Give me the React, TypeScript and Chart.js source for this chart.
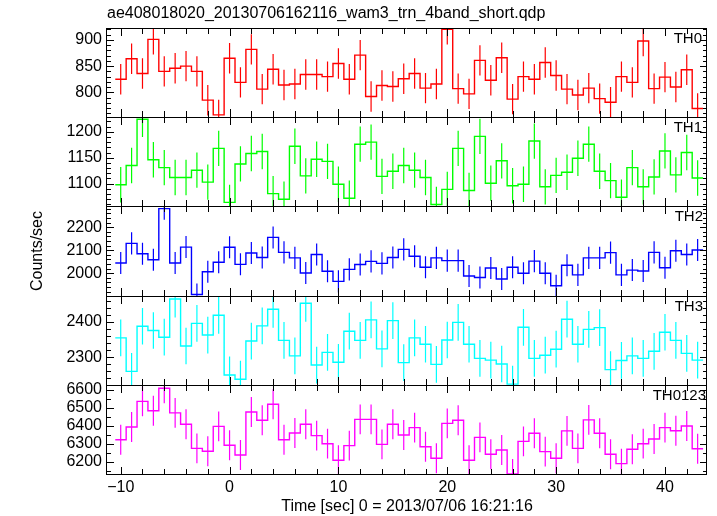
import React, { useEffect, useRef } from 'react';
import { Chart, registerables } from 'chart.js';

Chart.register(...registerables);

// ---------- data ----------
const TIME = [
  -10, -9, -8, -7, -6, -5, -4, -3, -2, -1, 0, 1, 2, 3, 4, 5, 6, 7, 8, 9, 10, 11, 12, 13, 14, 15, 16,
  17, 18, 19, 20, 21, 22, 23, 24, 25, 26, 27, 28, 29, 30, 31, 32, 33, 34, 35, 36, 37, 38, 39, 40, 41, 42, 43,
];
const BIN_WIDTH = 1;

const TH0 = [
  825, 864, 836, 901, 840, 846, 850, 840, 785, 757, 865, 819, 882, 806, 844, 814, 816, 834, 834, 830, 855, 825, 871, 792, 813, 811, 826,
  836, 808, 816, 920, 807, 797, 861, 823, 866, 787, 830, 825, 857, 832, 806, 795, 808, 788, 781, 830, 819, 898, 807, 829, 810, 843, 769,
];
const TH1 = [
  1098, 1135, 1224, 1146, 1131, 1112, 1112, 1126, 1103, 1168, 1064, 1138, 1158, 1162, 1081, 1070, 1172, 1115, 1147, 1143, 1099, 1072, 1176, 1180, 1114, 1124, 1135,
  1126, 1112, 1060, 1089, 1168, 1087, 1191, 1101, 1144, 1096, 1099, 1182, 1094, 1116, 1122, 1149, 1176, 1124, 1106, 1074, 1131, 1094, 1113, 1163, 1117, 1160, 1111,
];
const TH2 = [
  2045, 2130, 2085, 2059, 2281, 2045, 2114, 1908, 2007, 2048, 2113, 2039, 2088, 2069, 2156, 2091, 2067, 2001, 2082, 2009, 1965, 2017, 2038, 2052, 2043, 2069, 2104,
  2074, 2026, 2067, 2055, 2055, 1988, 1982, 2023, 1975, 2026, 2000, 2053, 2000, 1946, 2035, 1993, 2067, 2067, 2090, 1993, 2014, 2010, 2091, 2024, 2098, 2082, 2101,
];
const TH3 = [
  2355, 2260, 2388, 2376, 2357, 2465, 2332, 2396, 2363, 2419, 2250, 2238, 2346, 2389, 2436, 2348, 2304, 2453, 2278, 2314, 2286, 2374, 2348, 2406, 2324, 2404, 2285,
  2355, 2337, 2280, 2349, 2399, 2337, 2297, 2292, 2281, 2224, 2385, 2297, 2306, 2323, 2408, 2337, 2379, 2384, 2265, 2291, 2304, 2297, 2317, 2371, 2348, 2311, 2292,
];
const TH0123 = [
  6322, 6393, 6535, 6483, 6608, 6471, 6408, 6274, 6258, 6396, 6291, 6237, 6476, 6430, 6519, 6322, 6359, 6408, 6345, 6300, 6208, 6289, 6435, 6435, 6296, 6408, 6348,
  6389, 6283, 6219, 6413, 6430, 6208, 6335, 6241, 6265, 6132, 6313, 6358, 6256, 6219, 6371, 6274, 6432, 6358, 6241, 6189, 6269, 6300, 6326, 6389, 6372, 6398, 6272,
];

const TH0_ERR = 29;
const TH1_ERR = 34;
const TH2_ERR = 48;
const TH3_ERR = 52;
const TH0123_ERR = 83;

const TH0_TICKS = [800, 850, 900];
const TH1_TICKS = [1100, 1150, 1200];
const TH2_TICKS = [2000, 2100, 2200];
const TH3_TICKS = [2300, 2400];
const TH0123_TICKS = [6200, 6300, 6400, 6500, 6600];

const X_TICKS = [-10, 0, 10, 20, 30, 40];

const TITLE = 'ae408018020_20130706162116_wam3_trn_4band_short.qdp';
const X_TITLE = 'Time [sec] 0 = 2013/07/06 16:21:16';
const Y_TITLE = 'Counts/sec';

// ---------- layout / style ----------
const FONT = '"Liberation Sans", Arial, Helvetica, sans-serif';
const W = 717;
const X_MIN = -11.26;
const X_MAX = 43.86;
const X_MINOR = 2;
const AXIS_W = 107;
const RIGHT_PAD = 10;

type PanelCfg = {
  label: string;
  labelInset: number;
  values: number[];
  err: number;
  color: string;
  min: number;
  max: number;
  ticks: number[];
  minor: number;
  top: number;
  height: number;
  topAxis: number;
  topPad: number;
  bottomAxis: number;
  yTitle: boolean;
  last: boolean;
};

const PANELS: PanelCfg[] = [
  { label: 'TH0', labelInset: 5, values: TH0, err: TH0_ERR, color: '#ff0000', min: 752.9, max: 922.7, ticks: TH0_TICKS, minor: 10, top: 0, height: 117, topAxis: 28, topPad: 0, bottomAxis: 0, yTitle: false, last: false },
  { label: 'TH1', labelInset: 5, values: TH1, err: TH1_ERR, color: '#00ff00', min: 1057.1, max: 1228.3, ticks: TH1_TICKS, minor: 10, top: 117, height: 89, topAxis: 0, topPad: 0, bottomAxis: 0, yTitle: false, last: false },
  { label: 'TH2', labelInset: 4, values: TH2, err: TH2_ERR, color: '#0000ff', min: 1901.3, max: 2292.6, ticks: TH2_TICKS, minor: 20, top: 206, height: 90, topAxis: 0, topPad: 0, bottomAxis: 0, yTitle: true, last: false },
  { label: 'TH3', labelInset: 4, values: TH3, err: TH3_ERR, color: '#00ffff', min: 2221.5, max: 2473.7, ticks: TH3_TICKS, minor: 20, top: 296, height: 89, topAxis: 0, topPad: 0, bottomAxis: 0, yTitle: false, last: false },
  { label: 'TH0123', labelInset: 1, values: TH0123, err: TH0123_ERR, color: '#ff00ff', min: 6126, max: 6626, ticks: TH0123_TICKS, minor: 50, top: 375, height: 141, topAxis: 0, topPad: 10, bottomAxis: 41, yTitle: false, last: true },
];

const fmt = (v: number) => (v < 0 ? '\u2212' + Math.abs(v) : String(v));

const zeroPad = (s: any) => {
  s.paddingTop = 0;
  s.paddingBottom = 0;
  s.paddingLeft = 0;
  s.paddingRight = 0;
};

const frameTicks = {
  id: 'frameTicks',
  afterDraw(chart: any, _args: any, o: any) {
    const { ctx, chartArea: a } = chart;
    const xs = chart.scales.x;
    const ys = chart.scales.y;
    ctx.save();
    ctx.strokeStyle = '#000';
    ctx.lineWidth = 1;
    ctx.beginPath();
    const L = a.left - 0.5;
    const R = a.right - 0.5;
    const T = a.top + 0.5;
    const B = a.bottom - 0.5;
    ctx.moveTo(L, a.top);
    ctx.lineTo(L, a.bottom);
    ctx.moveTo(R, a.top);
    ctx.lineTo(R, a.bottom);
    ctx.moveTo(L - 0.5, T);
    ctx.lineTo(R + 0.5, T);
    if (o.last) {
      ctx.moveTo(L - 0.5, B);
      ctx.lineTo(R + 0.5, B);
    }
    for (let k = Math.ceil(xs.min / X_MINOR); k * X_MINOR <= xs.max; k++) {
      const v = k * X_MINOR;
      const px = Math.round(xs.getPixelForValue(v)) + 0.5;
      const len = X_TICKS.includes(v) ? 8 : 6;
      ctx.moveTo(px, a.top);
      ctx.lineTo(px, a.top + len);
      ctx.moveTo(px, a.bottom);
      ctx.lineTo(px, a.bottom - len);
    }
    for (let k = Math.ceil(ys.min / o.minor); k * o.minor <= ys.max; k++) {
      const v = k * o.minor;
      const py = Math.round(ys.getPixelForValue(v)) + 0.5;
      const len = o.ticks.includes(v) ? 7 : 4;
      ctx.moveTo(a.left, py);
      ctx.lineTo(a.left + len, py);
      ctx.moveTo(a.right, py);
      ctx.lineTo(a.right - len, py);
    }
    ctx.stroke();
    ctx.fillStyle = '#000';
    ctx.font = `15px ${FONT}`;
    ctx.textAlign = 'right';
    ctx.textBaseline = 'middle';
    ctx.fillText(o.label, a.right - o.inset, a.top + 10.5);
    ctx.restore();
  },
};

function makeConfig(p: PanelCfg): any {
  const n = TIME.length;
  const stepData = TIME.map((t, i) => ({ x: t - BIN_WIDTH / 2, y: p.values[i] }));
  stepData.push({ x: TIME[n - 1] + BIN_WIDTH / 2, y: p.values[n - 1] });
  const errData: any[] = [];
  TIME.forEach((t, i) => {
    errData.push({ x: t, y: p.values[i] - p.err });
    errData.push({ x: t, y: p.values[i] + p.err });
    errData.push({ x: t, y: null });
  });

  const scales: any = {
    x: {
      type: 'linear',
      position: 'bottom',
      min: X_MIN,
      max: X_MAX,
      display: p.last,
      afterBuildTicks: (s: any) => {
        s.ticks = X_TICKS.map((v) => ({ value: v }));
      },
      afterFit: (s: any) => {
        s.height = p.bottomAxis;
        zeroPad(s);
      },
      grid: { display: false, drawTicks: false },
      border: { display: false },
      ticks: {
        color: '#000',
        font: { family: FONT, size: 16 },
        padding: 3,
        autoSkip: false,
        maxRotation: 0,
        callback: (v: number) => fmt(v),
      },
      title: {
        display: true,
        text: X_TITLE,
        color: '#000',
        font: { family: FONT, size: 16 },
        padding: { top: 0, bottom: 0 },
      },
    },
    y: {
      type: 'linear',
      position: 'left',
      min: p.min,
      max: p.max,
      afterBuildTicks: (s: any) => {
        s.ticks = p.ticks.map((v) => ({ value: v }));
      },
      afterFit: (s: any) => {
        s.width = AXIS_W;
        zeroPad(s);
      },
      grid: { display: false, drawTicks: false },
      border: { display: false },
      ticks: {
        color: '#000',
        font: { family: FONT, size: 16 },
        padding: 5,
        autoSkip: false,
        callback: (v: number) => fmt(v),
      },
      title: {
        display: p.yTitle,
        text: Y_TITLE,
        color: '#000',
        font: { family: FONT, size: 16 },
        padding: { top: 28, bottom: 0 },
      },
    },
  };
  if (p.topAxis > 0) {
    scales.x2 = {
      type: 'linear',
      position: 'top',
      min: X_MIN,
      max: X_MAX,
      afterFit: (s: any) => {
        s.height = p.topAxis;
        zeroPad(s);
      },
      grid: { display: false, drawTicks: false },
      border: { display: false },
      ticks: { display: false },
      title: {
        display: true,
        text: TITLE,
        align: 'start',
        color: '#000',
        font: { family: FONT, size: 16 },
        padding: { top: 4, bottom: 0 },
      },
    };
  }

  return {
    type: 'line',
    data: {
      datasets: [
        {
          data: stepData,
          borderColor: p.color,
          borderWidth: 1.4,
          pointRadius: 0,
          stepped: true,
          fill: false,
        },
        {
          data: errData,
          borderColor: p.color,
          borderWidth: 1.2,
          pointRadius: 0,
          spanGaps: false,
          fill: false,
        },
      ],
    },
    options: {
      animation: false,
      responsive: false,
      maintainAspectRatio: false,
      devicePixelRatio: 1,
      events: [],
      layout: { autoPadding: false, padding: { left: 0, right: RIGHT_PAD, top: p.topPad, bottom: 0 } },
      plugins: {
        legend: { display: false },
        tooltip: { enabled: false },
        title: { display: false },
        frameTicks: { label: p.label, inset: p.labelInset, ticks: p.ticks, minor: p.minor, last: p.last },
      },
      scales,
    },
    plugins: [frameTicks],
  };
}

function Panel({ cfg }: { cfg: PanelCfg }) {
  const ref = useRef<HTMLCanvasElement>(null);
  useEffect(() => {
    if (!ref.current) return;
    const chart = new Chart(ref.current, makeConfig(cfg));
    return () => chart.destroy();
  }, [cfg]);
  return (
    <canvas
      ref={ref}
      width={W}
      height={cfg.height}
      style={{ position: 'absolute', left: 0, top: cfg.top, width: W, height: cfg.height, display: 'block' }}
    />
  );
}

export default function App() {
  return (
    <div style={{ position: 'fixed', left: 0, top: 0, width: W, height: 516, background: '#fff', overflow: 'hidden' }}>
      {PANELS.map((p) => (
        <Panel key={p.label} cfg={p} />
      ))}
    </div>
  );
}
